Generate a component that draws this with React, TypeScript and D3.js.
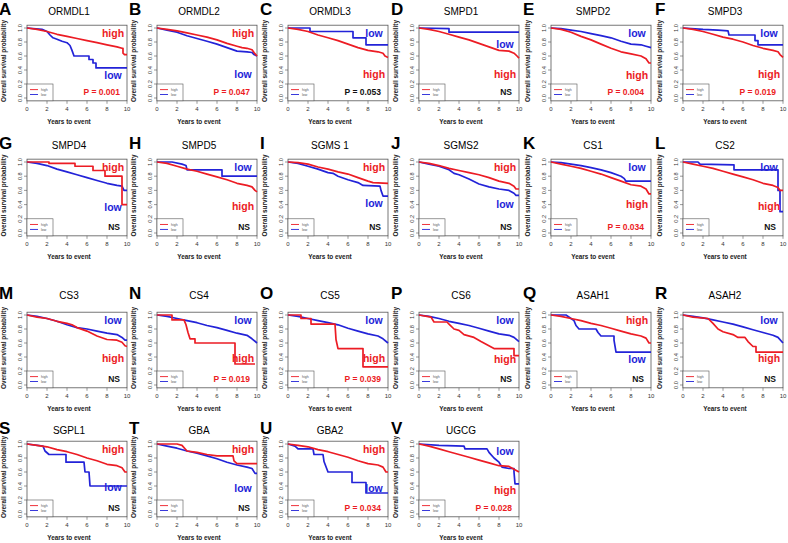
import React from "react";
import * as d3 from "d3";

type Pt = [number, number];

const letters = ["A","B","C","D","E","F","G","H","I","J","K","L","M","N","O","P","Q","R","S","T","U","V"];
const genes = ["ORMDL1","ORMDL2","ORMDL3","SMPD1","SMPD2","SMPD3","SMPD4","SMPD5","SGMS 1","SGMS2","CS1","CS2","CS3","CS4","CS5","CS6","ASAH1","ASAH2","SGPL1","GBA","GBA2","UGCG"];
const pLabels = ["P = 0.001","P = 0.047","P = 0.053","NS","P = 0.004","P = 0.019","NS","NS","NS","NS","P = 0.034","NS","NS","P = 0.019","P = 0.039","NS","NS","NS","NS","NS","P = 0.034","P = 0.028"];
const pSignificant = [true,true,false,false,true,true,false,false,false,false,true,false,false,true,true,false,false,false,false,false,true,true];
const topGroup = ["high","high","low","low","low","low","high","low","high","high","low","low","low","low","low","low","high","low","high","high","high","low"];
const topLabelLevel = [0.93,0.93,0.93,0.76,0.93,0.93,0.93,0.93,0.93,0.93,0.93,0.93,0.93,0.93,0.93,0.93,0.93,0.93,0.93,0.93,0.93,0.9];
const bottomLabelLevel = [0.33,0.34,0.34,0.34,0.33,0.34,0.36,0.38,0.42,0.4,0.4,0.38,0.38,0.38,0.38,0.36,0.36,0.38,0.38,0.37,0.36,0.34];

const highCurves: Pt[][] = [
  [[0,1],[1,0.98],[2,0.95],[3,0.91],[4,0.88],[5,0.85],[6,0.82],[7,0.79],[8,0.76],[9,0.73],[9.5,0.71],[9.6,0.71],[9.6,0.64],[9.75,0.62],[10,0.62]],
  [[0,1],[1,0.98],[2,0.96],[3,0.93],[4,0.9],[5,0.87],[6,0.83],[7,0.78],[8,0.74],[8.5,0.72],[9,0.71],[9.5,0.69],[9.7,0.65],[10,0.6]],
  [[0,1],[1,0.98],[2,0.95],[3,0.9],[4,0.86],[5,0.82],[6,0.77],[7,0.72],[8,0.68],[9,0.66],[9.5,0.64],[9.7,0.6],[10,0.58]],
  [[0,1],[1,0.98],[2,0.95],[3,0.91],[4,0.87],[5,0.83],[6,0.78],[7,0.73],[8,0.68],[9,0.67],[9.5,0.64],[9.8,0.6],[10,0.57]],
  [[0,1],[1,0.98],[2,0.94],[3,0.88],[4,0.83],[5,0.77],[6,0.71],[7,0.66],[8,0.63],[9,0.6],[9.5,0.56],[9.8,0.5],[10,0.5]],
  [[0,1],[1,0.98],[2,0.95],[3,0.91],[4,0.87],[5,0.84],[6,0.8],[7,0.75],[8,0.71],[9,0.68],[9.5,0.66],[9.7,0.62],[10,0.58]],
  [[0,1],[2.2,1],[2.2,0.98],[4.8,0.98],[4.8,0.94],[6.6,0.94],[6.6,0.88],[7.8,0.88],[7.8,0.8],[9.5,0.8],[9.5,0.4],[10,0.4]],
  [[0,1],[1,0.98],[2,0.94],[3,0.9],[4,0.87],[5,0.83],[6,0.79],[7,0.75],[8,0.7],[9,0.67],[9.5,0.65],[9.8,0.6],[10,0.58]],
  [[0,1],[1,0.99],[2,0.97],[3,0.93],[4,0.9],[5,0.86],[6,0.83],[7,0.78],[8,0.73],[8.5,0.71],[10,0.7]],
  [[0,1],[1,0.98],[2,0.95],[3,0.91],[4,0.88],[5,0.85],[6,0.82],[7,0.78],[8,0.73],[9,0.7],[9.5,0.66],[9.7,0.62],[10,0.62]],
  [[0,1],[1,0.97],[2,0.94],[3,0.91],[4,0.87],[5,0.83],[6,0.78],[7,0.73],[8,0.68],[9,0.66],[9.5,0.62],[9.8,0.55],[10,0.55]],
  [[0,1],[1,0.97],[2,0.94],[3,0.91],[4,0.87],[5,0.83],[6,0.79],[7,0.75],[8,0.7],[9,0.67],[9.5,0.64],[9.7,0.6],[10,0.6]],
  [[0,1],[1,0.97],[2,0.95],[3,0.91],[4,0.88],[4.5,0.86],[5,0.82],[6,0.77],[7,0.7],[8,0.65],[9,0.64],[9.5,0.61],[9.8,0.56],[10,0.55]],
  [[0,1],[1.5,1],[1.5,0.93],[2.7,0.93],[2.9,0.86],[3.1,0.75],[3.3,0.66],[3.8,0.66],[3.8,0.6],[7.8,0.6],[7.8,0.3],[9.8,0.3]],
  [[0,1],[1.3,1],[1.3,0.95],[2.3,0.95],[2.3,0.87],[4.7,0.87],[4.8,0.65],[5,0.52],[7.5,0.52],[7.5,0.26],[10,0.26]],
  [[0,1],[1.2,0.97],[1.5,0.9],[2.8,0.9],[3,0.87],[3.5,0.8],[4,0.78],[4.5,0.72],[5.5,0.68],[6.2,0.62],[7.5,0.52],[9.5,0.52],[9.5,0.42],[10,0.42]],
  [[0,1],[1,0.98],[2,0.95],[3,0.92],[4,0.88],[5,0.85],[6,0.81],[7,0.77],[8,0.73],[9,0.7],[9.5,0.67],[9.8,0.6],[10,0.6]],
  [[0,1],[1,0.97],[2.5,0.95],[3,0.88],[3.5,0.8],[4,0.76],[5,0.72],[5.5,0.68],[6.2,0.68],[6.5,0.62],[7,0.55],[7.3,0.55],[7.3,0.47],[10,0.47]],
  [[0,1],[1,0.98],[2,0.96],[3,0.92],[4,0.89],[5,0.85],[6,0.8],[7,0.76],[8,0.71],[9,0.69],[9.5,0.66],[9.8,0.6],[10,0.6]],
  [[0,1],[2,1],[2.5,0.98],[3,0.9],[4,0.88],[5,0.85],[6,0.83],[7.6,0.83],[7.7,0.76],[8,0.72],[10,0.72]],
  [[0,1],[1,0.98],[2,0.96],[3,0.92],[4,0.89],[5,0.85],[6,0.81],[7,0.76],[8,0.72],[9,0.7],[9.5,0.67],[9.8,0.6],[10,0.6]],
  [[0,1],[1,0.97],[2,0.93],[3,0.89],[4,0.85],[5,0.81],[6,0.77],[7,0.73],[8,0.69],[9,0.68],[9.5,0.64],[10,0.6]],
];

const lowCurves: Pt[][] = [
  [[0,1],[1.5,0.98],[2,0.95],[2.3,0.9],[2.6,0.86],[3,0.84],[3.5,0.81],[4,0.79],[4.3,0.75],[4.5,0.68],[4.7,0.6],[6.2,0.6],[6.2,0.55],[6.6,0.55],[6.6,0.5],[6.9,0.5],[6.9,0.43],[10,0.43]],
  [[0,1],[1,0.97],[2,0.94],[3,0.89],[4,0.85],[5,0.81],[6,0.77],[7,0.72],[8,0.67],[9,0.66],[9.5,0.65],[9.7,0.62],[10,0.6]],
  [[0,1],[2.2,1],[2.2,0.95],[6.5,0.95],[6.5,0.86],[7.8,0.86],[7.8,0.76],[10,0.76]],
  [[0,1],[3,0.99],[3,0.94],[10,0.94]],
  [[0,1],[1,0.99],[2,0.97],[3,0.95],[4,0.92],[5,0.89],[6,0.86],[7,0.81],[8,0.77],[9,0.76],[9.5,0.74],[10,0.72]],
  [[0,1],[2,0.98],[3.5,0.97],[4.5,0.96],[4.6,0.9],[7.2,0.9],[7.2,0.82],[7.5,0.82],[7.5,0.76],[10,0.76]],
  [[0,1],[1,0.98],[2,0.95],[3,0.9],[4,0.86],[5,0.82],[6,0.78],[7,0.74],[8,0.7],[9,0.67],[9.5,0.66],[9.7,0.6],[10,0.6]],
  [[0,1],[1.5,1],[2.5,0.97],[2.9,0.95],[3,0.89],[6.5,0.89],[6.5,0.8],[10,0.8]],
  [[0,1],[1,0.98],[2,0.94],[3,0.9],[4,0.85],[4.5,0.84],[5,0.8],[6,0.75],[7,0.71],[7.5,0.67],[9.2,0.66],[9.3,0.6],[9.5,0.52],[10,0.52]],
  [[0,1],[1,0.97],[2,0.94],[3,0.89],[3.5,0.84],[4,0.82],[5,0.76],[6,0.69],[7,0.65],[8,0.62],[9,0.6],[9.5,0.56],[9.7,0.53],[10,0.53]],
  [[0,1],[1,0.99],[2,0.97],[3,0.95],[4,0.92],[5,0.89],[6,0.85],[7,0.8],[7.3,0.77],[7.5,0.73],[10,0.73]],
  [[0,1],[1.5,1],[1.7,0.97],[5.1,0.96],[5.1,0.89],[9.5,0.89],[9.5,0.6],[9.7,0.6],[9.7,0.3],[10,0.3]],
  [[0,1],[1,0.98],[2,0.95],[3,0.91],[4,0.86],[5,0.82],[6,0.8],[7,0.77],[8,0.74],[9,0.72],[9.5,0.68],[9.8,0.64],[10,0.64]],
  [[0,1],[1,0.98],[2,0.95],[3,0.92],[4,0.89],[5,0.85],[6,0.82],[7,0.78],[8,0.74],[9,0.71],[9.5,0.66],[10,0.6]],
  [[0,1],[1,0.98],[2,0.95],[3,0.92],[4,0.89],[5,0.86],[6,0.81],[7,0.77],[8,0.73],[9,0.7],[9.5,0.66],[10,0.6]],
  [[0,1],[1,0.98],[2,0.95],[3,0.91],[4,0.88],[5,0.85],[6,0.81],[7,0.77],[8,0.73],[9,0.71],[9.5,0.68],[10,0.62]],
  [[0,1],[1.5,1],[2,0.95],[2.3,0.92],[2.5,0.85],[2.8,0.8],[4.5,0.8],[4.7,0.75],[5,0.7],[6.3,0.7],[6.3,0.64],[6.5,0.47],[10,0.47]],
  [[0,1],[1,0.98],[2,0.96],[3,0.93],[4,0.9],[5,0.87],[6,0.83],[7,0.79],[8,0.75],[9,0.71],[9.5,0.68],[10,0.6]],
  [[0,1],[1.6,0.97],[1.8,0.9],[2.2,0.85],[3.9,0.85],[3.9,0.74],[5.7,0.74],[5.8,0.6],[6.2,0.6],[6.3,0.4],[10,0.4]],
  [[0,1],[1,0.97],[2,0.94],[3,0.9],[4,0.87],[5,0.83],[6,0.79],[7,0.74],[8,0.7],[9,0.67],[9.5,0.65],[9.8,0.58],[10,0.58]],
  [[0,1],[0.7,0.97],[1,0.93],[2.5,0.93],[2.6,0.85],[3.5,0.85],[3.6,0.75],[4,0.6],[6.4,0.6],[6.4,0.45],[7.8,0.45],[7.8,0.3],[10,0.3]],
  [[0,1],[2,0.98],[4.5,0.97],[4.6,0.93],[6.8,0.93],[7,0.88],[7.5,0.8],[8,0.74],[8.3,0.67],[9,0.65],[9.5,0.65],[9.5,0.6],[9.6,0.43],[10,0.43]],
];

const xTicks = [0, 2, 4, 6, 8, 10];
const yTicks = [0, 0.2, 0.4, 0.6, 0.8, 1.0];

const RED = "#ec1c24";
const BLUE = "#2323d8";
const FONT = "'Liberation Sans', Arial, sans-serif";

const colLeft = [27, 157, 288, 419, 551, 683];
const rowTop1 = [28, 162, 315, 444]; // y of value 1.0
const rowBottom0 = [98, 233, 385, 514]; // y of value 0.0
const titleBase = [15, 149, 299, 434];
const BOXW = 100;

function Panel({ i }: { i: number }) {
  const col = i % 6;
  const row = Math.floor(i / 6);
  const left = colLeft[col];
  const x = d3.scaleLinear().domain([0, 10]).range([left, left + BOXW]);
  const y = d3.scaleLinear().domain([0, 1]).range([rowBottom0[row], rowTop1[row]]);
  const boxTop = y(1.04);
  const boxBot = y(-0.04);
  const line = d3.line<Pt>().x((d) => x(d[0])).y((d) => y(d[1])).curve(d3.curveLinear);
  const top = topGroup[i];
  const bottom = top === "high" ? "low" : "high";
  const colorOf = (g: string) => (g === "high" ? RED : BLUE);
  const legTop = y(0.2);
  const yLabelX = left - 21;
  const yMid = (boxTop + boxBot) / 2 - 2;
  return (
    <g>
      <text x={left - 28} y={titleBase[row]} fontFamily={FONT} fontWeight="bold" fontSize={17}>{letters[i]}</text>
      <text x={left + 42} y={titleBase[row]} textAnchor="middle" fontFamily={FONT} fontSize={10}>{genes[i]}</text>
      <rect x={left} y={boxTop} width={BOXW} height={boxBot - boxTop} fill="none" stroke="#555" strokeWidth={0.8} />
      {yTicks.map((t) => (
        <g key={"y" + t}>
          <line x1={left} x2={left - 3} y1={y(t)} y2={y(t)} stroke="#555" strokeWidth={0.6} />
          <text transform={`translate(${left - 5.5},${y(t)}) rotate(-90)`} textAnchor="middle" fontFamily={FONT} fontSize={5.6} fill="#333">{t.toFixed(1)}</text>
        </g>
      ))}
      {xTicks.map((t) => (
        <g key={"x" + t}>
          <line x1={x(t)} x2={x(t)} y1={boxBot} y2={boxBot + 3} stroke="#555" strokeWidth={0.6} />
          <text x={x(t)} y={boxBot + 10.5} textAnchor="middle" fontFamily={FONT} fontSize={6} fill="#333">{t}</text>
        </g>
      ))}
      <text transform={`translate(${yLabelX},${yMid}) rotate(-90)`} textAnchor="middle" fontFamily={FONT} fontWeight="bold" fontSize={6.4} fill="#222">Overall survival probability</text>
      <text x={left + 42} y={boxBot + 23} textAnchor="middle" fontFamily={FONT} fontWeight="bold" fontSize={6.4} fill="#222">Years  to event</text>
      <rect x={left} y={legTop} width={26} height={boxBot - legTop} fill="white" stroke="#555" strokeWidth={0.6} />
      <line x1={left + 3} x2={left + 11} y1={y(0.12)} y2={y(0.12)} stroke={RED} strokeWidth={0.9} />
      <line x1={left + 3} x2={left + 11} y1={y(0.05)} y2={y(0.05)} stroke={BLUE} strokeWidth={0.9} />
      <text x={left + 14} y={y(0.12) + 1.2} fontFamily={FONT} fontSize={3.5} fill="#555">high</text>
      <text x={left + 14} y={y(0.05) + 1.2} fontFamily={FONT} fontSize={3.5} fill="#555">low</text>
      <path d={line(lowCurves[i]) || ""} fill="none" stroke={BLUE} strokeWidth={1.7} strokeLinejoin="round" />
      <path d={line(highCurves[i]) || ""} fill="none" stroke={RED} strokeWidth={1.7} strokeLinejoin="round" />
      <text x={x(8.6)} y={y(topLabelLevel[i])} dy="0.35em" textAnchor="middle" fontFamily={FONT} fontWeight="bold" fontSize={10.5} fill={colorOf(top)}>{top}</text>
      <text x={x(8.6)} y={y(bottomLabelLevel[i])} dy="0.35em" textAnchor="middle" fontFamily={FONT} fontWeight="bold" fontSize={10.5} fill={colorOf(bottom)}>{bottom}</text>
      <text x={x(9.3)} y={y(0.08)} dy="0.35em" textAnchor="end" fontFamily={FONT} fontWeight="bold" fontSize={8.5} fill={pSignificant[i] ? RED : "#111"}>{pLabels[i]}</text>
    </g>
  );
}

export default function App() {
  return (
    <svg width={788} height={543} style={{ position: "absolute", left: 0, top: 0, background: "white" }}>
      <rect width={788} height={543} fill="white" />
      {genes.map((_, i) => (
        <Panel key={i} i={i} />
      ))}
    </svg>
  );
}
